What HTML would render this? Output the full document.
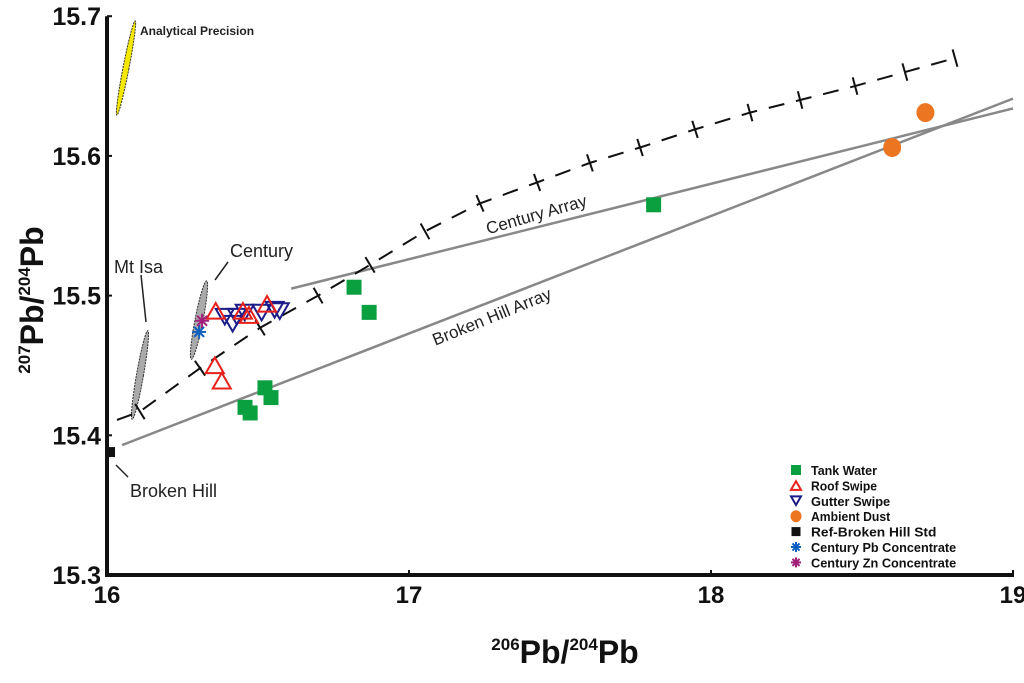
<!DOCTYPE html>
<html><head><meta charset="utf-8"><style>
html,body{margin:0;padding:0;background:#fff}
svg{display:block;font-family:"Liberation Sans",Arial,sans-serif}
</style></head><body>
<svg id="chart" width="1024" height="683" viewBox="0 0 1024 683" xmlns="http://www.w3.org/2000/svg">
<g id="annot"></g>
<g id="lines"></g>
<g id="growth"></g>
<g id="marks"></g>
<g id="axes"></g>
<g id="legend"></g>
</svg>
<script>
const xTicks=[16,17,18,19];
const yTicks=[15.3,15.4,15.5,15.6,15.7];
const yTickLabels=["15.3","15.4","15.5","15.6","15.7"];
const tankX=[16.818,16.868,16.457,16.474,16.523,16.543,17.81];
const tankY=[15.506,15.488,15.420,15.416,15.434,15.427,15.565];
const dustX=[18.60,18.71];
const dustY=[15.606,15.631];
const roofX=[16.36,16.45,16.53,16.47,16.357,16.38];
const roofY=[15.488,15.488,15.493,15.485,15.449,15.438];
const gutterX=[16.39,16.416,16.43,16.456,16.512,16.555,16.572];
const gutterY=[15.486,15.481,15.486,15.489,15.489,15.491,15.490];
const refX=[16.01];
const refY=[15.388];
const pbX=[16.305];
const pbY=[15.474];
const znX=[16.315];
const znY=[15.482];
const centuryArrayX=[16.61,19.0];
const centuryArrayY=[15.505,15.634];
const bhArrayX=[16.05,19.0];
const bhArrayY=[15.393,15.641];
const growthX=[16.033,16.109,16.308,16.507,16.699,16.871,17.053,17.235,17.424,17.599,17.765,17.947,18.129,18.295,18.477,18.642,18.808];
const growthY=[15.411,15.417,15.448,15.477,15.500,15.522,15.546,15.566,15.581,15.595,15.606,15.619,15.631,15.640,15.650,15.660,15.670];

const X=v=>107+(v-16)*302;
const Y=v=>575-(v-15.3)*1397;
const NS="http://www.w3.org/2000/svg";
function mk(tag,attrs,parent){const e=document.createElementNS(NS,tag);for(const k in attrs)e.setAttribute(k,attrs[k]);parent.appendChild(e);return e;}
const axes=document.getElementById('axes'),marks=document.getElementById('marks'),lines=document.getElementById('lines'),growth=document.getElementById('growth'),annot=document.getElementById('annot'),legend=document.getElementById('legend');

// axes
let a=mk('line',{x1:X(16),y1:Y(15.3)+2,x2:X(16),y2:Y(15.7),stroke:'#111','stroke-width':4},axes);

a=mk('line',{x1:X(16)-2,y1:Y(15.3),x2:X(19)+1,y2:Y(15.3),stroke:'#111','stroke-width':4},axes);

xTicks.forEach((t,i)=>{
  let tk=mk('line',{x1:X(t),y1:Y(15.3),x2:X(t),y2:Y(15.3)-5,stroke:'#111','stroke-width':2},axes);
  
  let tx=mk('text',{x:X(t),y:603,'text-anchor':'middle','font-size':24,'font-weight':'bold',fill:'#111'},axes);
  tx.textContent=String(t);
  
});
yTicks.forEach((t,i)=>{
  let tk=mk('line',{x1:X(16),y1:Y(t),x2:X(16)+5,y2:Y(t),stroke:'#111','stroke-width':2},axes);
  
  let tx=mk('text',{x:101,y:Y(t)+9,'text-anchor':'end','font-size':25,'font-weight':'bold',fill:'#111'},axes);
  tx.textContent=yTickLabels[i];
  
});
let xt=mk('text',{x:565,y:663,'text-anchor':'middle','font-size':32,'font-weight':'bold',fill:'#111'},axes);
xt.innerHTML='<tspan font-size="17" dy="-13">206</tspan><tspan dy="13">Pb/</tspan><tspan font-size="17" dy="-13">204</tspan><tspan dy="13">Pb</tspan>';

let yt=mk('text',{x:0,y:0,'text-anchor':'middle','font-size':32,'font-weight':'bold',fill:'#111',transform:'translate(43,300) rotate(-90)'},axes);
yt.innerHTML='<tspan font-size="17" dy="-13">207</tspan><tspan dy="13">Pb/</tspan><tspan font-size="17" dy="-13">204</tspan><tspan dy="13">Pb</tspan>';


// array lines
let ca=mk('line',{x1:X(centuryArrayX[0]),y1:Y(centuryArrayY[0]),x2:X(centuryArrayX[1]),y2:Y(centuryArrayY[1]),stroke:'#888','stroke-width':2.5},lines);

let ba=mk('line',{x1:X(bhArrayX[0]),y1:Y(bhArrayY[0]),x2:X(bhArrayX[1]),y2:Y(bhArrayY[1]),stroke:'#888','stroke-width':2.5},lines);

let t1=mk('text',{x:0,y:0,'font-size':17,fill:'#222','text-anchor':'middle',transform:'translate(538,220) rotate(-16)'},lines);
t1.textContent='Century Array';
let t2=mk('text',{x:0,y:0,'font-size':17,fill:'#222','text-anchor':'middle',transform:'translate(494,322) rotate(-22)'},lines);
t2.textContent='Broken Hill Array';

// growth curve
let d=growthX.map((v,i)=>(i?'L':'M')+X(v)+','+Y(growthY[i])).join(' ');
let gp=mk('path',{d:d,fill:'none',stroke:'#111','stroke-width':2,'stroke-dasharray':'16,12'},growth);

growthX.forEach((v,i)=>{
  if(i===0)return;
  const px=X(v),py=Y(growthY[i]);
  const j=Math.min(i+1,growthX.length-1),k=i-1;
  const dx=X(growthX[j])-X(growthX[k]),dy=Y(growthY[j])-Y(growthY[k]);
  const L=Math.hypot(dx,dy),nx=-dy/L*9,ny=dx/L*9;
  let tk=mk('line',{x1:px-nx,y1:py-ny,x2:px+nx,y2:py+ny,stroke:'#111','stroke-width':2},growth);
  
});

// annotations (ellipses and labels)
function ell(cx,cy,rx,ry,rot,fill,name){let e=mk('ellipse',{cx:cx,cy:cy,rx:rx,ry:ry,transform:`rotate(${rot} ${cx} ${cy})`,fill:fill,stroke:'#333','stroke-width':1,'stroke-dasharray':'2,1'},annot);}
ell(140,375,3.5,45,10,'#aaa','mt-isa-field');
ell(199,320,4,40,11,'#aaa','century-field');
ell(126,68,3,48,11,'#f5e800','analytical-precision-ellipse');
function txt(x,y,s,size,w,name){let t=mk('text',{x:x,y:y,'font-size':size,'font-weight':w,fill:'#222'},annot);t.textContent=s;}
function ln(x1,y1,x2,y2,name){let l=mk('line',{x1:x1,y1:y1,x2:x2,y2:y2,stroke:'#222','stroke-width':1.5},annot);}
txt(140,35,'Analytical Precision',12,'bold','analytical-precision-label');
txt(114,273,'Mt Isa',18,'normal','mt-isa-label');
ln(141,275,146,322,'mt-isa-leader');
txt(230,257,'Century',18,'normal','century-label');
ln(228,262,215,280,'century-leader');
txt(130,497,'Broken Hill',18,'normal','broken-hill-label');
ln(116,465,128,477,'broken-hill-leader');

// marks
function sq(x,y,s,fill,name){let r=mk('rect',{x:x-s/2,y:y-s/2,width:s,height:s,fill:fill},marks);return r;}
function tri(x,y,s,up,col,name,par){const h=s*0.87;const p=up?`${x},${y-h*0.6} ${x-s/2},${y+h*0.4} ${x+s/2},${y+h*0.4}`:`${x},${y+h*0.6} ${x-s/2},${y-h*0.4} ${x+s/2},${y-h*0.4}`;let e=mk('polygon',{points:p,fill:'none',stroke:col,'stroke-width':2},par||marks);}
function star(x,y,r,col,name,par){let g=mk('g',{stroke:col,'stroke-width':2},par||marks);for(let a=0;a<4;a++){const t=a*Math.PI/4;mk('line',{x1:x-r*Math.cos(t),y1:y-r*Math.sin(t),x2:x+r*Math.cos(t),y2:y+r*Math.sin(t)},g);}}
function dot(x,y,rx,ry,col,name,par){let e=mk('ellipse',{cx:x,cy:y,rx:rx,ry:ry,fill:col},par||marks);}
tankX.forEach((v,i)=>sq(X(v),Y(tankY[i]),15,'#0aa040','tank-water-point'));
dustX.forEach((v,i)=>dot(X(v),Y(dustY[i]),9,9.5,'#ec7522','ambient-dust-point'));
gutterX.forEach((v,i)=>tri(X(v),Y(gutterY[i]),18,false,'#1c1c8a','gutter-swipe-point'));
roofX.forEach((v,i)=>tri(X(v),Y(roofY[i]),18,true,'#e8201a','roof-swipe-point'));
refX.forEach((v,i)=>sq(X(v),Y(refY[i]),10,'#111','ref-broken-hill-std-point'));
pbX.forEach((v,i)=>star(X(v),Y(pbY[i]),7,'#1060c0','century-pb-concentrate-point'));
znX.forEach((v,i)=>star(X(v),Y(znY[i]),7,'#a0207a','century-zn-concentrate-point'));

// legend
const legLabels=["Tank Water","Roof Swipe","Gutter Swipe","Ambient Dust","Ref-Broken Hill Std","Century Pb Concentrate","Century Zn Concentrate"];
legLabels.forEach((s,i)=>{
  const y=470+i*15.4,mx=796;
  let g=mk('g',{},legend);
  
  if(i===0){let r=mk('rect',{x:mx-5,y:y-5,width:10,height:10,fill:'#0aa040'},g);}
  if(i===1)tri(mx,y+1,10,true,'#e8201a','legend-marker',g);
  if(i===2)tri(mx,y-1,10,false,'#1c1c8a','legend-marker',g);
  if(i===3)dot(mx,y,5.5,6,'#ec7522','legend-marker',g);
  if(i===4){mk('rect',{x:mx-4.5,y:y-4.5,width:9,height:9,fill:'#111'},g);}
  if(i===5)star(mx,y,5,'#1060c0','legend-marker',g);
  if(i===6)star(mx,y,5,'#a0207a','legend-marker',g);
  let t=mk('text',{x:811,y:y+5,'font-size':13,'font-weight':'bold',fill:'#111',textLength:s.length*6.6,lengthAdjust:'spacingAndGlyphs'},g);
  t.textContent=s;
});
</script>
</body></html>
